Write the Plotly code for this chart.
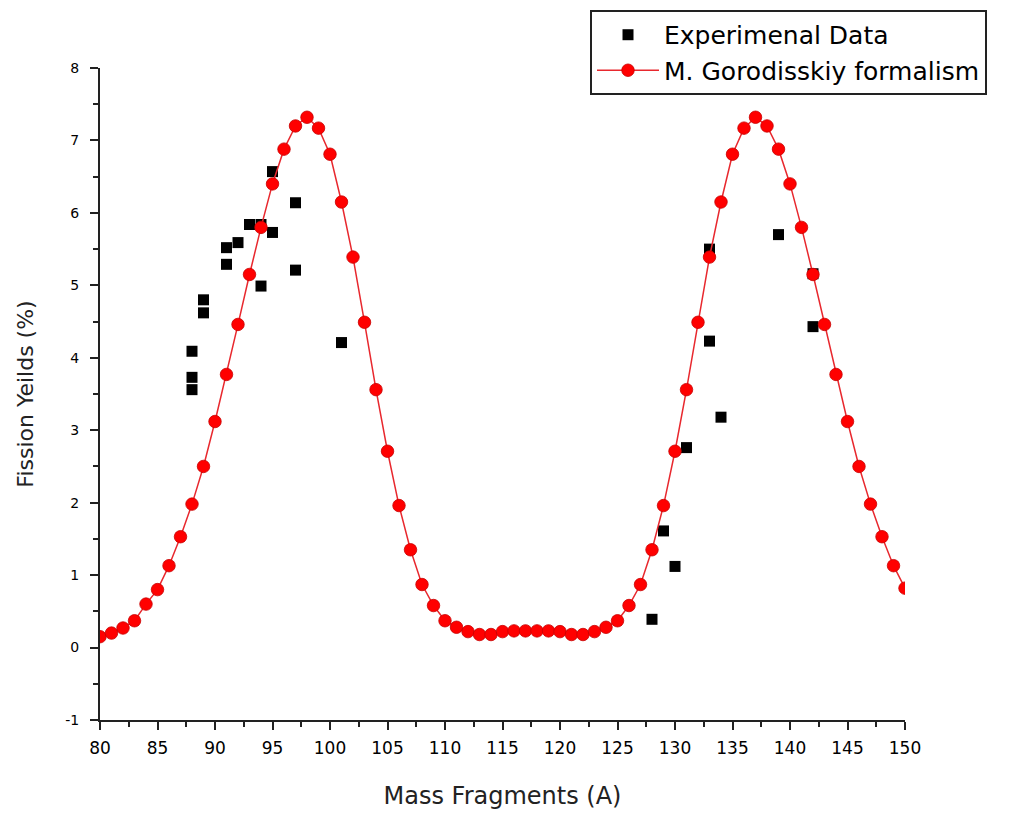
import plotly.graph_objects as go

# Theoretical curve (M. Gorodisskiy formalism)
mass_theory = list(range(80, 151))
yield_theory = [
    0.15, 0.20, 0.27, 0.37, 0.60, 0.80, 1.13, 1.53, 1.98, 2.50,
    3.12, 3.77, 4.46, 5.15, 5.80, 6.40, 6.88, 7.20, 7.32, 7.17,
    6.81, 6.15, 5.39, 4.49, 3.56, 2.71, 1.96, 1.35, 0.87, 0.58,
    0.37, 0.28, 0.22, 0.18, 0.18, 0.22, 0.23, 0.23, 0.23, 0.23,
    0.22, 0.18, 0.18, 0.22, 0.28, 0.37, 0.58, 0.87, 1.35, 1.96,
    2.71, 3.56, 4.49, 5.39, 6.15, 6.81, 7.17, 7.32, 7.20, 6.88,
    6.40, 5.80, 5.15, 4.46, 3.77, 3.12, 2.50, 1.98, 1.53, 1.13,
    0.82,
]

# Experimental data
mass_exp = [88, 88, 88, 89, 89, 91, 91, 92, 93, 94, 94, 95, 95, 97, 97, 101,
            128, 129, 130, 131, 133, 133, 134, 139, 142, 142]
yield_exp = [4.09, 3.73, 3.56, 4.80, 4.62, 5.52, 5.29, 5.59, 5.84, 5.84, 4.99, 6.57, 5.73, 6.14, 5.21, 4.21,
             0.39, 1.61, 1.12, 2.76, 5.50, 4.23, 3.18, 5.70, 5.16, 4.43]

x_ticks = list(range(80, 151, 5))
y_ticks = list(range(-1, 9))

FONT = "DejaVu Sans, Verdana, sans-serif"

fig = go.Figure()
fig.add_trace(go.Scatter(
    x=mass_exp, y=yield_exp, mode="markers", name="Experimenal Data",
    marker=dict(symbol="square", size=11, color="black"),
))
fig.add_trace(go.Scatter(
    x=mass_theory, y=yield_theory, mode="lines+markers", name="M. Gorodisskiy formalism",
    line=dict(color="#e8282e", width=1.5),
    marker=dict(symbol="circle", size=12.5, color="#ff0000", line=dict(color="#c80000", width=0.8)),
))

axis_common = dict(
    showline=True, linecolor="#222222", linewidth=2, mirror=False,
    ticks="outside", ticklen=8, tickwidth=2, tickcolor="#222222",
    showgrid=False, zeroline=False,
)

fig.update_xaxes(
    range=[80, 150], tickvals=x_ticks, ticktext=[str(v) for v in x_ticks],
    minor=dict(dtick=2.5, ticks="outside", ticklen=5, tickwidth=2, tickcolor="#222222"),
    tickfont=dict(family=FONT, size=17, color="black"),
    ticklabelstandoff=4,
    title=dict(text="Mass Fragments (A)", standoff=30,
               font=dict(family=FONT, size=24, color="#222222")),
    **axis_common,
)
fig.update_yaxes(
    range=[-1, 8], tickvals=y_ticks, ticktext=[str(v) for v in y_ticks],
    minor=dict(dtick=0.5, ticks="outside", ticklen=5, tickwidth=2, tickcolor="#222222"),
    tickfont=dict(family=FONT, size=14, color="black"),
    ticklabelstandoff=8,
    title=dict(text="Fission Yeilds (%)", standoff=26,
               font=dict(family=FONT, size=22, color="#222222")),
    **axis_common,
)

fig.update_layout(
    width=1000, height=802,
    margin=dict(l=92, r=103, t=60, b=90, autoexpand=False),
    paper_bgcolor="white", plot_bgcolor="white",
    legend=dict(
        x=0.6087, y=1.089, xanchor="left", yanchor="top",
        bordercolor="#222222", borderwidth=2, bgcolor="white",
        font=dict(family=FONT, size=25, color="black"),
        tracegroupgap=0, itemwidth=62,
    ),
    showlegend=True,
)

fig.write_html("out.html")
